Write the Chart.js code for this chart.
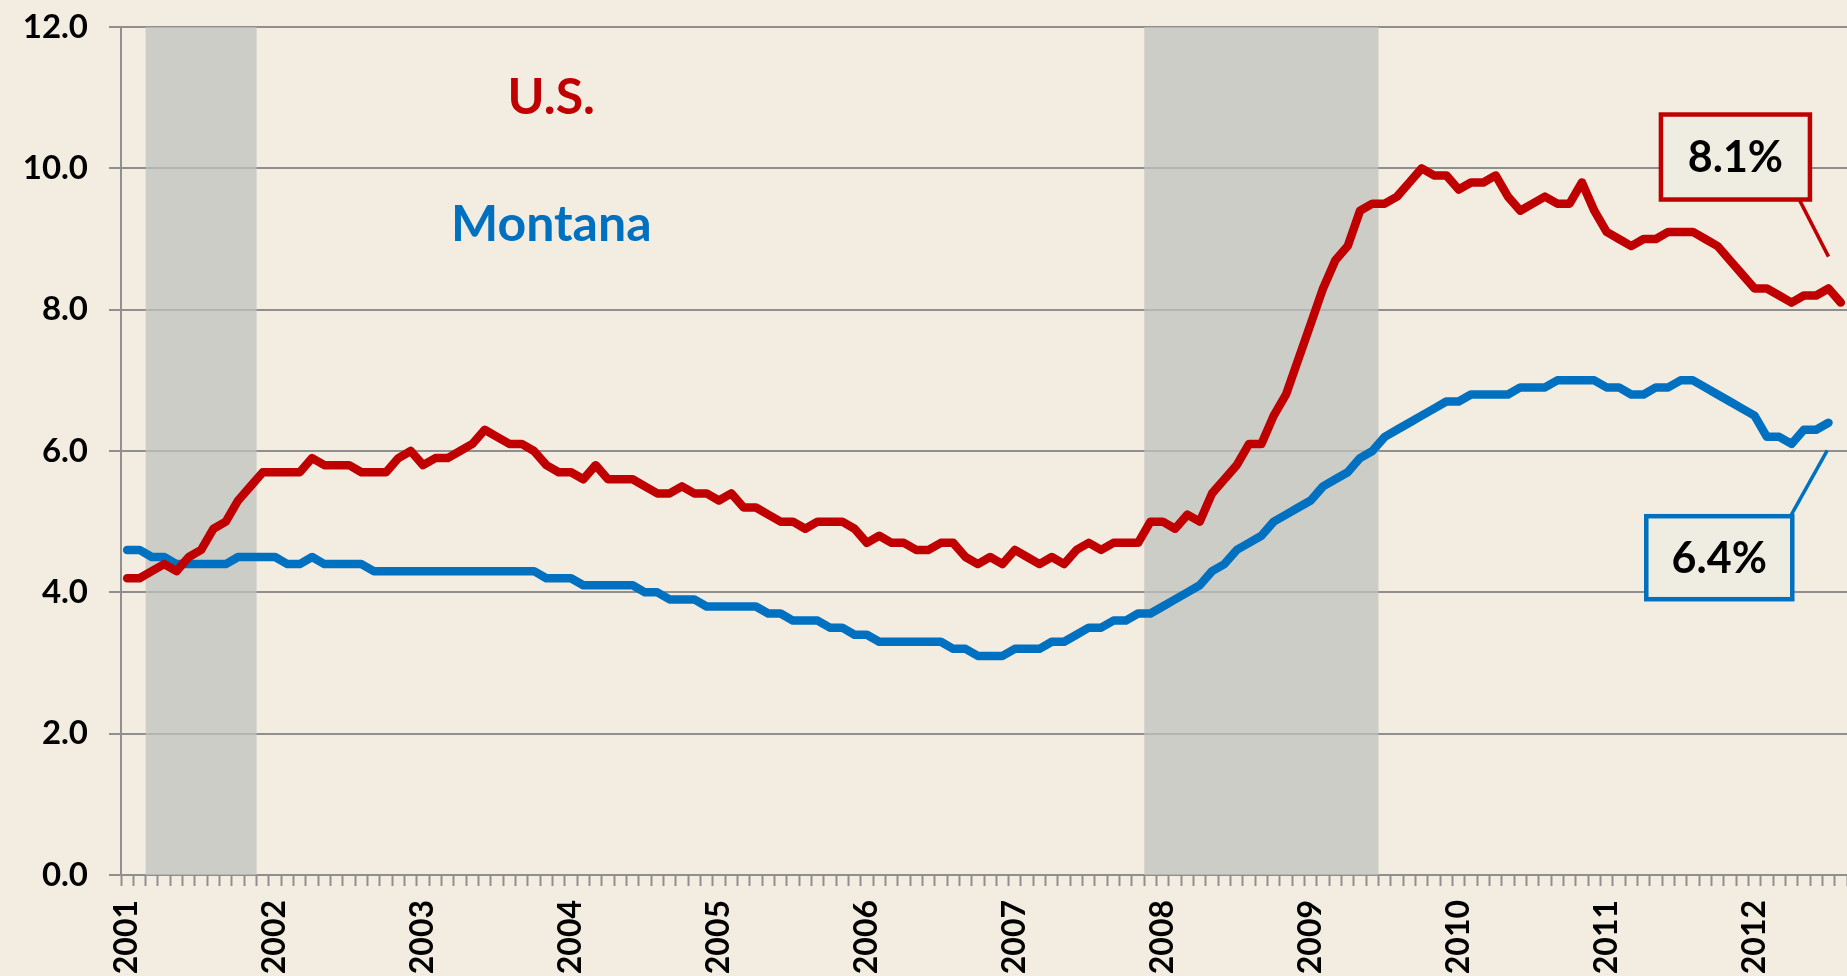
<!DOCTYPE html>
<html>
<head>
<meta charset="utf-8">
<script src="https://cdn.jsdelivr.net/npm/chart.js@4.4.1/dist/chart.umd.min.js"></script>
<style>
    html, body { margin: 0; padding: 0; background: #F3EDE1; overflow: hidden; }
    #wrap { width: 1847px; height: 976px; }
</style>
</head>
<body>
<div id="wrap"><canvas id="unemploymentChart" width="1847" height="976"></canvas></div>
<script>
// monthly unemployment rate, Jan 2001 - Aug 2012
const firstYear = 2001;
const lastYear = 2012;
const lastMonth = 8;

const usRate = [
    4.2, 4.2, 4.3, 4.4, 4.3, 4.5, 4.6, 4.9, 5.0, 5.3, 5.5, 5.7,
    5.7, 5.7, 5.7, 5.9, 5.8, 5.8, 5.8, 5.7, 5.7, 5.7, 5.9, 6.0,
    5.8, 5.9, 5.9, 6.0, 6.1, 6.3, 6.2, 6.1, 6.1, 6.0, 5.8, 5.7,
    5.7, 5.6, 5.8, 5.6, 5.6, 5.6, 5.5, 5.4, 5.4, 5.5, 5.4, 5.4,
    5.3, 5.4, 5.2, 5.2, 5.1, 5.0, 5.0, 4.9, 5.0, 5.0, 5.0, 4.9,
    4.7, 4.8, 4.7, 4.7, 4.6, 4.6, 4.7, 4.7, 4.5, 4.4, 4.5, 4.4,
    4.6, 4.5, 4.4, 4.5, 4.4, 4.6, 4.7, 4.6, 4.7, 4.7, 4.7, 5.0,
    5.0, 4.9, 5.1, 5.0, 5.4, 5.6, 5.8, 6.1, 6.1, 6.5, 6.8, 7.3,
    7.8, 8.3, 8.7, 8.9, 9.4, 9.5, 9.5, 9.6, 9.8, 10.0, 9.9, 9.9,
    9.7, 9.8, 9.8, 9.9, 9.6, 9.4, 9.5, 9.6, 9.5, 9.5, 9.8, 9.4,
    9.1, 9.0, 8.9, 9.0, 9.0, 9.1, 9.1, 9.1, 9.0, 8.9, 8.7, 8.5,
    8.3, 8.3, 8.2, 8.1, 8.2, 8.2, 8.3, 8.1
];

const montanaRate = [
    4.6, 4.6, 4.5, 4.5, 4.4, 4.4, 4.4, 4.4, 4.4, 4.5, 4.5, 4.5,
    4.5, 4.4, 4.4, 4.5, 4.4, 4.4, 4.4, 4.4, 4.3, 4.3, 4.3, 4.3,
    4.3, 4.3, 4.3, 4.3, 4.3, 4.3, 4.3, 4.3, 4.3, 4.3, 4.2, 4.2,
    4.2, 4.1, 4.1, 4.1, 4.1, 4.1, 4.0, 4.0, 3.9, 3.9, 3.9, 3.8,
    3.8, 3.8, 3.8, 3.8, 3.7, 3.7, 3.6, 3.6, 3.6, 3.5, 3.5, 3.4,
    3.4, 3.3, 3.3, 3.3, 3.3, 3.3, 3.3, 3.2, 3.2, 3.1, 3.1, 3.1,
    3.2, 3.2, 3.2, 3.3, 3.3, 3.4, 3.5, 3.5, 3.6, 3.6, 3.7, 3.7,
    3.8, 3.9, 4.0, 4.1, 4.3, 4.4, 4.6, 4.7, 4.8, 5.0, 5.1, 5.2,
    5.3, 5.5, 5.6, 5.7, 5.9, 6.0, 6.2, 6.3, 6.4, 6.5, 6.6, 6.7,
    6.7, 6.8, 6.8, 6.8, 6.8, 6.9, 6.9, 6.9, 7.0, 7.0, 7.0, 7.0,
    6.9, 6.9, 6.8, 6.8, 6.9, 6.9, 7.0, 7.0, 6.9, 6.8, 6.7, 6.6,
    6.5, 6.2, 6.2, 6.1, 6.3, 6.3, 6.4
];

// NBER recessions (first month, last month)
const recessions = [
    ['2001-03', '2001-11'],
    ['2007-12', '2009-06']
];

const yTicks = [0, 2, 4, 6, 8, 10, 12];

const usColor = '#C00000';
const mtColor = '#0070C0';
const gridColor = '#8F8F8F';
const bgColor = '#F3EDE1';
const tickFont = { family: 'Lato', weight: 'bold', size: 33 };

let months = [];
for (let y = firstYear; y <= lastYear; y++) {
    for (let m = 1; m <= 12; m++) {
        if (y === lastYear && m > lastMonth) break;
        months.push(y + '-' + String(m).padStart(2, '0'));
    }
}

// free text labels and the two value callouts, placed in data units
const seriesLabels = [
    { text: 'U.S.', x: 34.4, y: 11.0, color: usColor },
    { text: 'Montana', x: 34.4, y: 9.2, color: mtColor }
];
const callouts = [
    { text: '8.1%', x: 130.45, y: 10.16, w: 149, h: 85, color: usColor, from: [135.65, 9.55], to: [138.0, 8.75] },
    { text: '6.4%', x: 129.14, y: 4.49, w: 146, h: 83, color: mtColor, from: [134.9, 5.07], to: [137.9, 6.01] }
];

const backgroundPlugin = {
    id: 'bgFill',
    beforeDraw(chart) {
        let ctx = chart.ctx;
        ctx.save();
        ctx.fillStyle = bgColor;
        ctx.fillRect(0, 0, chart.width, chart.height);
        ctx.restore();
    }
};

// recession bands, one rectangle per recession, gridlines stay visible through them
const recessionPlugin = {
    id: 'recessionBands',
    beforeDatasetsDraw(chart) {
        let ctx = chart.ctx;
        let xs = chart.scales.x, ys = chart.scales.y;
        let half = (xs.getPixelForValue(1) - xs.getPixelForValue(0)) / 2;
        ctx.save();
        ctx.fillStyle = 'rgba(192,193,191,0.75)';
        recessions.forEach(r => {
            let x0 = xs.getPixelForValue(months.indexOf(r[0])) - half;
            let x1 = xs.getPixelForValue(months.indexOf(r[1])) + half;
            let top = ys.getPixelForValue(yTicks[yTicks.length - 1]);
            let bottom = ys.getPixelForValue(yTicks[0]);
            ctx.fillRect(x0, top, x1 - x0, bottom - top);
        });
        ctx.restore();
    }
};

const labelPlugin = {
    id: 'chartLabels',
    afterDatasetsDraw(chart) {
        let ctx = chart.ctx;
        let xs = chart.scales.x, ys = chart.scales.y;
        ctx.save();
        ctx.textAlign = 'center';
        ctx.textBaseline = 'middle';

        seriesLabels.forEach(l => {
            ctx.font = 'bold 50px Lato';
            ctx.fillStyle = l.color;
            ctx.fillText(l.text, xs.getPixelForValue(l.x), ys.getPixelForValue(l.y));
        });

        callouts.forEach(c => {
            ctx.strokeStyle = c.color;
            ctx.lineWidth = 3.5;
            ctx.beginPath();
            ctx.moveTo(xs.getPixelForValue(c.from[0]), ys.getPixelForValue(c.from[1]));
            ctx.lineTo(xs.getPixelForValue(c.to[0]), ys.getPixelForValue(c.to[1]));
            ctx.stroke();

            let cx = xs.getPixelForValue(c.x), cy = ys.getPixelForValue(c.y);
            ctx.fillStyle = '#EFECE2';
            ctx.fillRect(cx - c.w / 2, cy - c.h / 2, c.w, c.h);
            ctx.lineWidth = 4.5;
            ctx.strokeRect(cx - c.w / 2, cy - c.h / 2, c.w, c.h);
            ctx.fillStyle = '#000000';
            ctx.font = 'bold 43px Lato';
            ctx.fillText(c.text, cx, cy + 1);
        });
        ctx.restore();
    }
};

let ctx = document.getElementById('unemploymentChart').getContext('2d');
window.unemploymentChart = new Chart(ctx, {
    type: 'line',
    data: {
        labels: months,
        datasets: [
            {
                label: 'U.S.',
                data: usRate,
                borderColor: usColor,
                borderWidth: 8.5,
                pointRadius: 0,
                tension: 0,
                borderJoinStyle: 'round',
                borderCapStyle: 'round',
                order: 0
            },
            {
                label: 'Montana',
                data: montanaRate,
                borderColor: mtColor,
                borderWidth: 8.5,
                pointRadius: 0,
                tension: 0,
                borderJoinStyle: 'round',
                borderCapStyle: 'round',
                order: 1
            }
        ]
    },
    options: {
        responsive: false,
        animation: false,
        devicePixelRatio: 1,
        layout: { padding: { top: 27, right: 0, left: 0, bottom: 0 } },
        plugins: {
            legend: { display: false },
            tooltip: { enabled: false }
        },
        scales: {
            x: {
                type: 'category',
                offset: true,
                grid: {
                    offset: true,
                    drawOnChartArea: false,
                    drawTicks: true,
                    tickLength: 11,
                    tickColor: gridColor,
                    tickWidth: 2
                },
                border: { display: true, color: gridColor, width: 2 },
                ticks: {
                    autoSkip: false,
                    maxRotation: 90,
                    minRotation: 90,
                    padding: 14,
                    color: '#000000',
                    font: { family: 'Lato', weight: 'bold', size: 32 },
                    callback: function(value) {
                        let lbl = this.getLabelForValue(value);
                        return lbl.endsWith('-01') ? lbl.slice(0, 4) : '';
                    }
                },
                afterFit: function(scale) {
                    scale.height = 101;
                    scale.paddingLeft = 0;
                    scale.paddingRight = 0;
                }
            },
            y: {
                min: 0,
                max: 12,
                ticks: {
                    stepSize: 2,
                    padding: 21,
                    color: '#000000',
                    font: tickFont,
                    callback: v => v.toFixed(1)
                },
                afterBuildTicks: function(scale) {
                    scale.ticks = yTicks.map(v => ({ value: v }));
                },
                grid: {
                    color: gridColor,
                    lineWidth: 2,
                    tickLength: 12
                },
                border: { display: true, color: gridColor, width: 2 },
                afterFit: function(scale) {
                    scale.width = 121;
                    scale.paddingTop = 0;
                    scale.paddingBottom = 0;
                }
            }
        }
    },
    plugins: [backgroundPlugin, recessionPlugin, labelPlugin]
});
</script>
</body>
</html>
